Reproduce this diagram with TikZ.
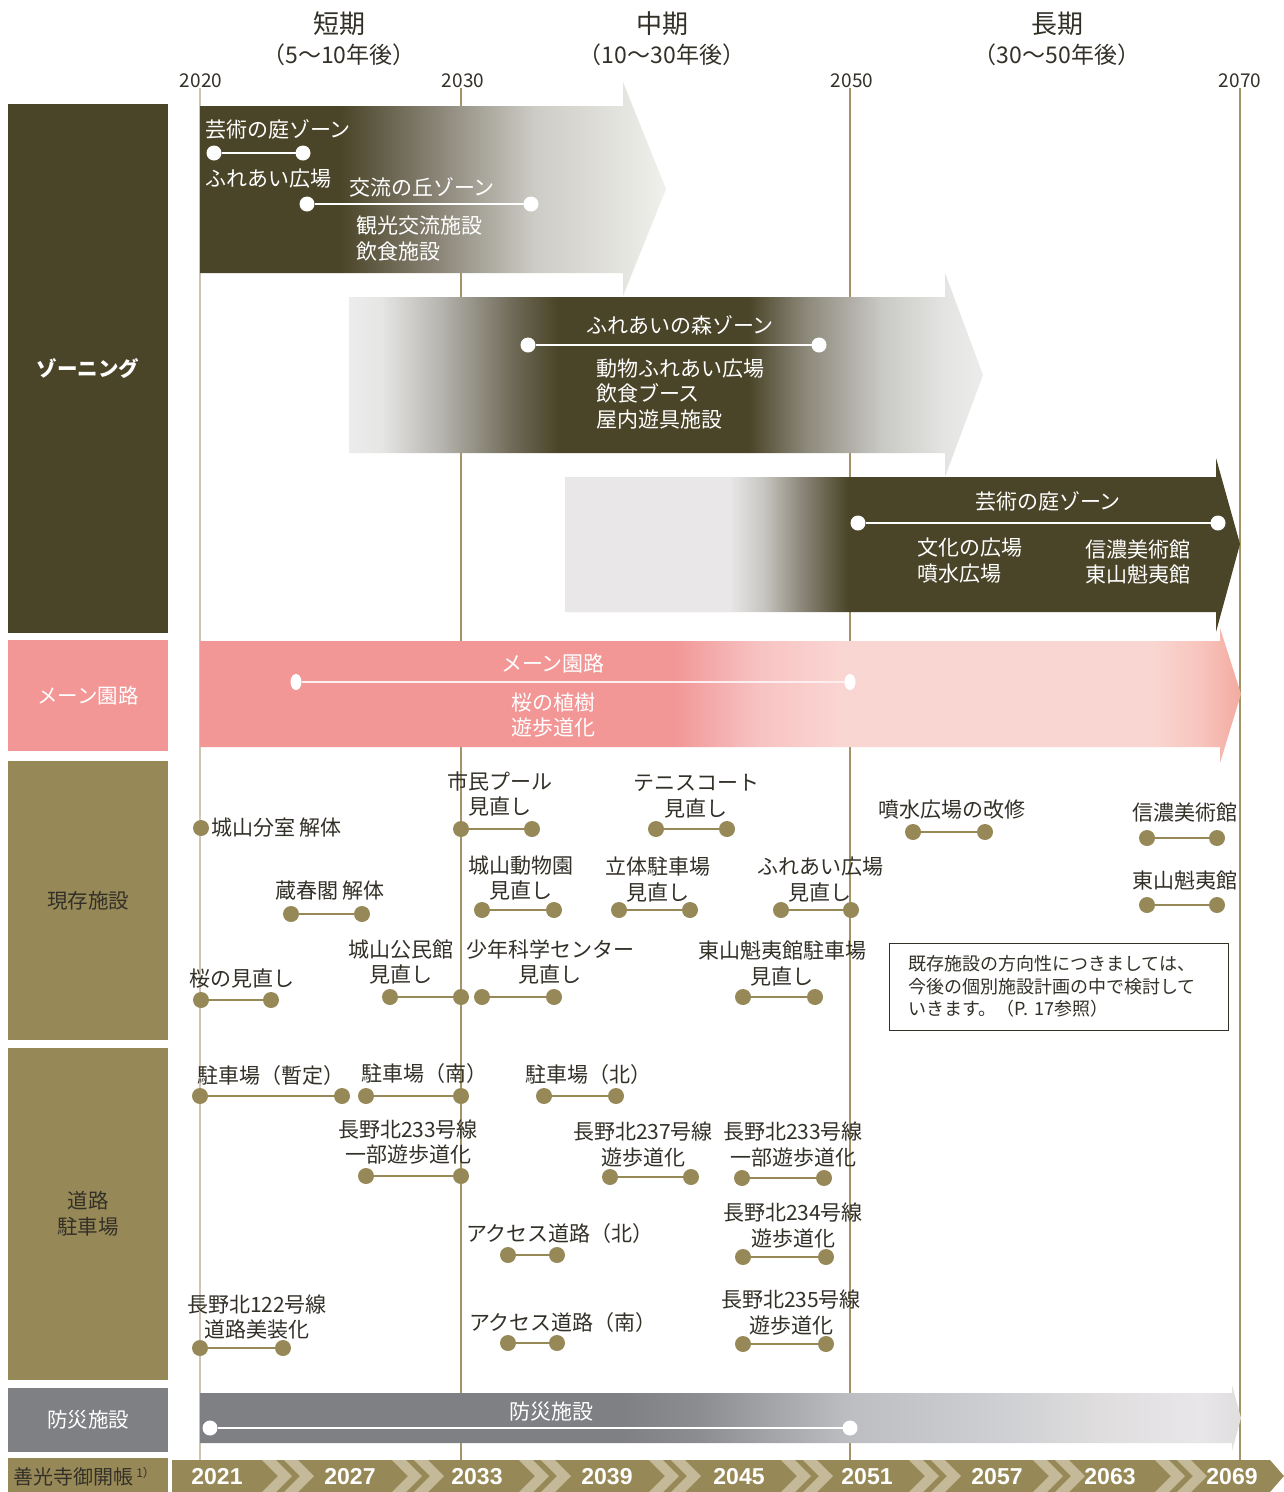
\documentclass[tikz,border=0pt]{standalone}
\usepackage{fontspec}
\setmainfont{Noto Sans CJK JP}
\newfontfamily\yrfont{Liberation Sans}
\usetikzlibrary{shapes.geometric}
\definecolor{olive}{RGB}{74,68,40}
\definecolor{tanc}{RGB}{151,137,87}
\definecolor{ltan}{RGB}{196,185,152}
\definecolor{pinkc}{RGB}{242,150,150}
\definecolor{greyc}{RGB}{126,128,131}
\definecolor{txt}{RGB}{51,48,40}
\definecolor{gridc}{RGB}{163,148,102}
\definecolor{gridl}{RGB}{206,198,176}
% zone arrow 1
\definecolor{zA1}{RGB}{135,130,115}
\definecolor{zA2}{RGB}{205,204,198}
\definecolor{zA3}{RGB}{240,240,236}
\pgfdeclarehorizontalshading{zoneA}{100bp}{color(0bp)=(olive); color(40bp)=(olive); color(50bp)=(zA1); color(61bp)=(zA2); color(75bp)=(zA3); color(100bp)=(zA3)}
% zone arrow 2
\definecolor{zB0}{RGB}{236,236,236}
\definecolor{zB1}{RGB}{230,230,229}
\definecolor{zB2}{RGB}{185,183,178}
\definecolor{zB3}{RGB}{110,105,86}
\definecolor{zB4}{RGB}{140,136,122}
\definecolor{zB5}{RGB}{200,200,196}
\definecolor{zB6}{RGB}{228,228,226}
\pgfdeclarehorizontalshading{zoneB}{100bp}{color(0bp)=(zB0); color(25bp)=(zB0); color(27.5bp)=(zB1); color(32bp)=(zB2); color(38bp)=(zB3); color(41.5bp)=(olive); color(56.5bp)=(olive); color(61bp)=(zB4); color(66.9bp)=(zB5); color(72bp)=(zB6); color(75bp)=(zB0); color(100bp)=(zB0)}
% zone arrow 3
\definecolor{zC0}{RGB}{233,231,231}
\definecolor{zC1}{RGB}{200,198,194}
\definecolor{zC2}{RGB}{140,135,122}
\pgfdeclarehorizontalshading{zoneC}{100bp}{color(0bp)=(zC0); color(37.2bp)=(zC0); color(39.7bp)=(zC1); color(42.5bp)=(zC2); color(46bp)=(olive); color(100bp)=(olive)}
% pink arrow
\definecolor{pk1}{RGB}{247,195,195}
\definecolor{pk2}{RGB}{250,214,210}
\definecolor{pk3}{RGB}{247,196,188}
\definecolor{pk4}{RGB}{243,170,160}
\pgfdeclarehorizontalshading{pinkS}{100bp}{color(0bp)=(pinkc); color(47.7bp)=(pinkc); color(51.9bp)=(pk1); color(55.9bp)=(pk2); color(70.7bp)=(pk2); color(73.1bp)=(pk3); color(75bp)=(pk4); color(100bp)=(pk4)}
% grey arrow
\definecolor{gy1}{RGB}{140,141,144}
\definecolor{gy2}{RGB}{188,190,194}
\definecolor{gy3}{RGB}{205,207,210}
\definecolor{gy4}{RGB}{223,221,222}
\definecolor{gy5}{RGB}{232,230,232}
\pgfdeclarehorizontalshading{greyS}{100bp}{color(0bp)=(greyc); color(45.2bp)=(greyc); color(49bp)=(gy1); color(56.2bp)=(gy2); color(63.4bp)=(gy3); color(68.2bp)=(gy4); color(73bp)=(gy5); color(75bp)=(gy4); color(100bp)=(gy4)}

\newcommand{\dotpair}[5]{%
  \node[#2dot] (#1a) at (#3,#5) {};
  \node[#2dot] (#1b) at (#4,#5) {};
  \draw[#2line] (#1a) -- (#1b);}

\begin{document}
\begin{tikzpicture}[x=1pt,y=-1pt,
  every node/.style={inner sep=0pt, outer sep=0pt},
  lbl/.style={font=\fontsize{21}{25.5}\selectfont, text=txt, align=center},
  wlbl/.style={font=\fontsize{21}{25.5}\selectfont, text=white, align=center},
  wlbll/.style={font=\fontsize{21}{25.5}\selectfont, text=white, align=left, anchor=west},
  cat/.style={minimum width=160, font=\fontsize{20.5}{26}\selectfont, align=center},
  tdot/.style={circle, fill=tanc, minimum size=16},
  tline/.style={draw=tanc, line width=2.2},
  wdot/.style={circle, fill=white, minimum size=15},
  wline/.style={draw=white, line width=1.8},
  pdot/.style={ellipse, fill=white, minimum width=11, minimum height=16},
  pline/.style={draw=white!85!pinkc, line width=2.2},
  hdr/.style={font=\fontsize{26}{30}\selectfont, text=txt},
  subhdr/.style={font=\fontsize{23}{26}\selectfont, text=txt},
  yr/.style={font=\fontsize{19}{22}\selectfont, text=txt},
  gridline/.style={draw=gridc, line width=1.5},
  byr/.style={font=\yrfont\bfseries\fontsize{23}{23}\selectfont, text=white}
]
\useasboundingbox (0,0) rectangle (1284,1492);
\fill[white] (0,0) rectangle (1284,1492);

% header
\node[hdr] (hs) at (339,24) {短期};
\node[subhdr] (hss) at (339,55) {（5〜10年後）};
\node[hdr] (hm) at (662,24) {中期};
\node[subhdr] (hms) at (662,55) {（10〜30年後）};
\node[hdr] (hl) at (1057,24) {長期};
\node[subhdr] (hls) at (1057,55) {（30〜50年後）};

\node[yr] (y2020) at (201,81) {2020};
\node[yr] (y2030) at (463,81) {2030};
\node[yr] (y2050) at (852,81) {2050};
\node[yr] (y2070) at (1240,81) {2070};
\coordinate (e2020) at (200,1460);
\coordinate (e2030) at (461,1460);
\coordinate (e2050) at (850,1460);
\coordinate (e2070) at (1240,1460);
\draw[gridline, draw=gridl] (e2020 |- y2020.south) -- (e2020);
\draw[gridline] (e2030 |- y2030.south) -- (e2030);
\draw[gridline] (e2050 |- y2050.south) -- (e2050);
\draw[gridline] (e2070 |- y2070.south) -- (e2070);

% category column
\node[cat, fill=olive, minimum height=529, text=white] (czone) at (88,368.5) {\bfseries ゾーニング};
\node[cat, fill=pinkc, minimum height=111, text=white] (cmain) at (88,695.5) {メーン園路};
\node[cat, fill=tanc, minimum height=279, text=txt] (cexist) at (88,900.5) {現存施設};
\node[cat, fill=tanc, minimum height=332, text=txt] (croad) at (88,1214) {道路\\駐車場};
\node[cat, fill=greyc, minimum height=64, text=white] (cdis) at (88,1420) {防災施設};
\node[cat, fill=tanc, minimum height=34] (cgk) at (88,1475) {};
\node[anchor=west, font=\fontsize{20}{22}\selectfont, text=txt] (gk) at (13,1477) {善光寺御開帳\,\raisebox{7pt}{\fontsize{12}{12}\selectfont 1）}};

% zoning arrows
\shade[shading=zoneA] (200,106) -- (623,106) -- (623,82) -- (666,189) -- (623,296) -- (623,273) -- (200,273) -- cycle;
\shade[shading=zoneB] (349,297) -- (945,297) -- (945,273) -- (983,375) -- (945,477) -- (945,453) -- (349,453) -- cycle;
\shade[shading=zoneC] (565,477) -- (1216,477) -- (1216,458) -- (1240,544) -- (1216,632) -- (1216,612) -- (565,612) -- cycle;
\shade[shading=pinkS] (200,641) -- (1220,641) -- (1220,628) -- (1241,694) -- (1220,763) -- (1220,747) -- (200,747) -- cycle;
\shade[shading=greyS] (200,1393) -- (1232,1393) -- (1232,1385) -- (1241,1418) -- (1232,1451) -- (1232,1443) -- (200,1443) -- cycle;

% zoning contents
\node[wlbll] (z1t) at (205,129) {芸術の庭ゾーン};
\dotpair{z1}{w}{214}{303}{153}
\node[wlbll] (z1s) at (205,179) {ふれあい広場};
\node[wlbll] (z2t) at (349,187) {交流の丘ゾーン};
\dotpair{z2}{w}{307}{531}{204}
\node[wlbll] (z2s) at (356,238.5) {観光交流施設\\飲食施設};

\node[wlbl] (z3t) at (680,325) {ふれあいの森ゾーン};
\dotpair{z3}{w}{528}{819}{345}
\node[wlbll] (z3s) at (596,394) {動物ふれあい広場\\飲食ブース\\屋内遊具施設};

\node[wlbl] (z4t) at (1048,501) {芸術の庭ゾーン};
\dotpair{z4}{w}{858}{1218}{523}
\node[wlbll] (z4s) at (917,560.5) {文化の広場\\噴水広場};
\node[wlbll] (z4u) at (1085,562) {信濃美術館\\東山魁夷館};

% main path
\node[wlbl] (mt) at (553,663) {メーン園路};
\dotpair{m}{p}{296}{850}{682}
\node[wlbl] (ms) at (553,715) {桜の植樹\\遊歩道化};

% disaster
\node[wlbl] (dt) at (551,1412) {防災施設};
\dotpair{d}{w}{210}{850}{1428}

% existing facilities
\node[tdot] (e1a) at (201,828) {};
\node[lbl, anchor=west] (e1t) at (211,828) {城山分室 解体};
\node[lbl] (e2t) at (500,794) {市民プール\\見直し};
\dotpair{e2}{t}{461}{532}{829}
\node[lbl] (e3t) at (696,796) {テニスコート\\見直し};
\dotpair{e3}{t}{656}{727}{829}
\node[lbl] (e4t) at (952,810) {噴水広場の改修};
\dotpair{e4}{t}{913}{985}{832}
\node[lbl] (e5t) at (1185,812) {信濃美術館};
\dotpair{e5}{t}{1147}{1217}{838}
\node[lbl] (e6t) at (330,891) {蔵春閣 解体};
\dotpair{e6}{t}{291}{362}{914}
\node[lbl] (e7t) at (521,878) {城山動物園\\見直し};
\dotpair{e7}{t}{482}{554}{910}
\node[lbl] (e8t) at (658,879.5) {立体駐車場\\見直し};
\dotpair{e8}{t}{619}{690}{910}
\node[lbl] (e9t) at (820,879.5) {ふれあい広場\\見直し};
\dotpair{e9}{t}{781}{851}{910}
\node[lbl] (e10t) at (1185,880) {東山魁夷館};
\dotpair{e10}{t}{1147}{1217}{905}
\node[lbl] (e11t) at (242,978) {桜の見直し};
\dotpair{e11}{t}{201}{271}{1000}
\node[lbl] (e12t) at (401,962) {城山公民館\\見直し};
\dotpair{e12}{t}{390}{461}{997}
\node[lbl] (e13t) at (550,962) {少年科学センター\\見直し};
\dotpair{e13}{t}{482}{554}{997}
\node[lbl] (e14t) at (782,963.5) {東山魁夷館駐車場\\見直し};
\dotpair{e14}{t}{743}{815}{997}

\node[draw=txt, line width=1, minimum width=339, minimum height=87, text width=300, inner xsep=19.5, align=left, font=\fontsize{18}{22.5}\selectfont, text=txt] (note) at (1058.5,986.5) {既存施設の方向性につきましては、\\今後の個別施設計画の中で検討して\\いきます。（P. 17参照）};

% roads and parking
\node[lbl] (r1t) at (271,1076) {駐車場（暫定）};
\dotpair{r1}{t}{200}{342}{1096}
\node[lbl] (r2t) at (424,1074) {駐車場（南）};
\dotpair{r2}{t}{366}{461}{1096}
\node[lbl] (r3t) at (588,1075) {駐車場（北）};
\dotpair{r3}{t}{544}{616}{1096}
\node[lbl] (r4t) at (408,1142) {長野北233号線\\一部遊歩道化};
\dotpair{r4}{t}{366}{461}{1176}
\node[lbl] (r5t) at (643,1144.5) {長野北237号線\\遊歩道化};
\dotpair{r5}{t}{610}{691}{1177}
\node[lbl] (r6t) at (793,1144.5) {長野北233号線\\一部遊歩道化};
\dotpair{r6}{t}{742}{824}{1178}
\node[lbl] (r7t) at (793,1225.5) {長野北234号線\\遊歩道化};
\dotpair{r7}{t}{743}{826}{1257}
\node[lbl] (r8t) at (560,1234) {アクセス道路（北）};
\dotpair{r8}{t}{508}{557}{1255}
\node[lbl] (r9t) at (257,1317) {長野北122号線\\道路美装化};
\dotpair{r9}{t}{200}{283}{1348}
\node[lbl] (r10t) at (563,1323) {アクセス道路（南）};
\dotpair{r10}{t}{508}{557}{1343}
\node[lbl] (r11t) at (791,1312.5) {長野北235号線\\遊歩道化};
\dotpair{r11}{t}{743}{826}{1344}

% bottom year band
\fill[tanc] (172,1460) -- (1270,1460) -- (1284,1476) -- (1270,1492) -- (172,1492) -- cycle;
\foreach \x in {262,392,519,649,781,909,1033,1155} {
  \fill[ltan] (\x,1460) -- ++(14,0) -- ++(16,16) -- ++(-16,16) -- ++(-14,0) -- ++(16,-16) -- cycle;
  \fill[ltan] (\x+22,1460) -- ++(14,0) -- ++(16,16) -- ++(-16,16) -- ++(-14,0) -- ++(16,-16) -- cycle;
}
\node[byr] (b1) at (217,1477) {2021};
\node[byr] (b2) at (350,1477) {2027};
\node[byr] (b3) at (477,1477) {2033};
\node[byr] (b4) at (607,1477) {2039};
\node[byr] (b5) at (739,1477) {2045};
\node[byr] (b6) at (867,1477) {2051};
\node[byr] (b7) at (997,1477) {2057};
\node[byr] (b8) at (1110,1477) {2063};
\node[byr] (b9) at (1232,1477) {2069};
\end{tikzpicture}
\end{document}
